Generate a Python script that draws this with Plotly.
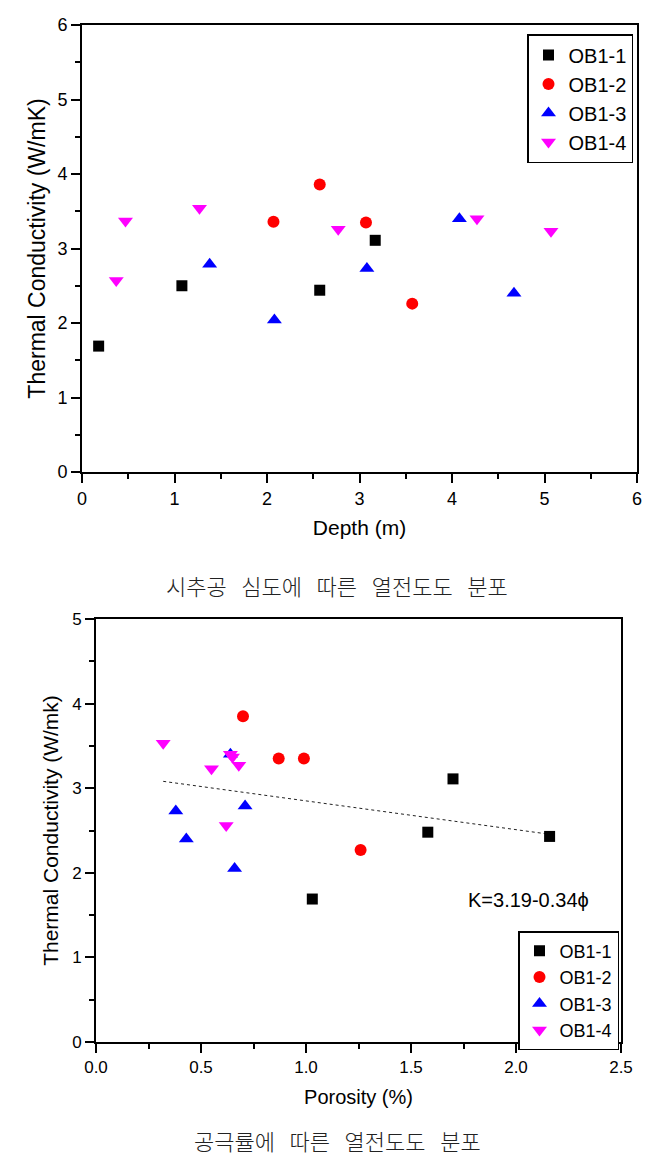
import plotly.graph_objects as go

W, H = 661, 1168
PAGE_OFFSET = 8  # default body margin of the page

# ---------------- data: depth chart ----------------
series_names = ["OB1-1", "OB1-2", "OB1-3", "OB1-4"]
series_colors = ["#000000", "#ff0000", "#0000ff", "#ff00ff"]
series_symbols = ["square", "circle", "triangle-up", "triangle-down"]
series_sizes = [11, 12, 13, 13]

depth_ob1_1 = [0.18, 1.08, 2.57, 3.17]
tc_depth_ob1_1 = [1.69, 2.50, 2.44, 3.11]
depth_ob1_2 = [2.07, 2.57, 3.07, 3.57]
tc_depth_ob1_2 = [3.36, 3.86, 3.35, 2.26]
depth_ob1_3 = [1.38, 2.08, 3.08, 4.08, 4.67]
tc_depth_ob1_3 = [2.79, 2.04, 2.73, 3.40, 2.40]
depth_ob1_4 = [0.37, 0.47, 1.27, 2.77, 4.27, 5.07]
tc_depth_ob1_4 = [2.57, 3.37, 3.54, 3.26, 3.40, 3.23]

# ---------------- data: porosity chart ----------------
por_ob1_1 = [1.03, 1.58, 2.16, 1.70]
tc_por_ob1_1 = [1.69, 2.48, 2.43, 3.11]
por_ob1_2 = [0.87, 0.70, 0.99, 1.26]
tc_por_ob1_2 = [3.35, 3.85, 3.35, 2.27]
por_ob1_3 = [0.71, 0.66, 0.38, 0.64, 0.43]
tc_por_ob1_3 = [2.79, 2.05, 2.73, 3.40, 2.40]
por_ob1_4 = [0.62, 0.65, 0.32, 0.68, 0.64, 0.55]
tc_por_ob1_4 = [2.56, 3.37, 3.53, 3.27, 3.40, 3.23]

# linear fit K = a - b*phi
fit_intercept = 3.19
fit_slope = -0.34
fit_label = "K=3.19-0.34\u03d5"

# captions
SP = "\u00a0\u00a0\u00a0"
caption_top = SP.join(["시추공", "심도에", "따른", "열전도도", "분포"])
caption_bottom = SP.join(["공극률에", "따른", "열전도도", "분포"])

depth_x = [depth_ob1_1, depth_ob1_2, depth_ob1_3, depth_ob1_4]
depth_y = [tc_depth_ob1_1, tc_depth_ob1_2, tc_depth_ob1_3, tc_depth_ob1_4]
por_x = [por_ob1_1, por_ob1_2, por_ob1_3, por_ob1_4]
por_y = [tc_por_ob1_1, tc_por_ob1_2, tc_por_ob1_3, tc_por_ob1_4]

FONT = "Liberation Sans, Arial, sans-serif"
CJK = "Noto Sans CJK KR"


def px_x(p):
    return (p - PAGE_OFFSET) / W


def px_y(p):
    return 1 - (p - PAGE_OFFSET) / H


fig = go.Figure()

# trend line (bottom chart)
all_por = [v for s in por_x for v in s]
fxs = [min(all_por), max(all_por)]
fys = [fit_intercept + fit_slope * v for v in fxs]
fig.add_trace(go.Scatter(x=fxs, y=fys, mode="lines", xaxis="x2", yaxis="y2",
                         line=dict(color="#222222", width=1, dash="dot"),
                         showlegend=False, hoverinfo="skip"))

for i, name in enumerate(series_names):
    fig.add_trace(go.Scatter(
        x=depth_x[i], y=depth_y[i], mode="markers", name=name,
        marker=dict(symbol=series_symbols[i], color=series_colors[i],
                    size=series_sizes[i], line=dict(width=0)),
        xaxis="x", yaxis="y", legend="legend"))
for i, name in enumerate(series_names):
    fig.add_trace(go.Scatter(
        x=por_x[i], y=por_y[i], mode="markers", name=name,
        marker=dict(symbol=series_symbols[i], color=series_colors[i],
                    size=series_sizes[i], line=dict(width=0)),
        xaxis="x2", yaxis="y2", legend="legend2"))


def axis(domain, rng, dtick, minor_dtick, title, title_size, standoff, anchor,
         tick_size=17, fmt=None):
    d = dict(
        domain=domain, range=rng, dtick=dtick, tick0=0, anchor=anchor,
        showline=True, linecolor="black", linewidth=2, mirror=True,
        ticks="outside", ticklen=9, tickwidth=2, tickcolor="black",
        minor=dict(ticks="outside", ticklen=5, tickwidth=2, tickcolor="black",
                   dtick=minor_dtick, tick0=0),
        showgrid=False, zeroline=False, automargin=False,
        tickfont=dict(family=FONT, size=tick_size, color="black"),
        title=dict(text=title, font=dict(family=FONT, size=title_size, color="black"),
                   standoff=standoff),
        fixedrange=True,
    )
    if fmt:
        d["tickformat"] = fmt
    return d


fig.update_layout(
    width=W, height=H,
    margin=dict(l=0, r=0, t=0, b=0),
    paper_bgcolor="white", plot_bgcolor="white",
    font=dict(family=FONT, color="black"),
    xaxis=axis([px_x(82), px_x(637)], [0, 6], 1, 0.5, "Depth (m)", 21, 13, "y", tick_size=18),
    yaxis=axis([px_y(472), px_y(25)], [0, 6], 1, 0.5, "Thermal Conductivity (W/mK)", 23, 5, "x", tick_size=18),
    xaxis2=axis([px_x(96), px_x(621)], [0, 2.5], 0.5, 0.25, "Porosity (%)", 20, 14, "y2", fmt=".1f"),
    yaxis2=axis([px_y(1042), px_y(619)], [0, 5], 1, 0.5, "Thermal Conductivity (W/mk)", 21, 8, "x2"),
    legend=dict(x=px_x(633), xanchor="right", y=px_y(34), yanchor="top",
                bordercolor="black", borderwidth=1.5, bgcolor="white",
                font=dict(family=FONT, size=20, color="black")),
    legend2=dict(x=px_x(619), xanchor="right", y=px_y(931), yanchor="top",
                 bordercolor="black", borderwidth=1.5, bgcolor="white",
                 font=dict(family=FONT, size=18, color="black")),
    annotations=[
        dict(text=fit_label, x=2.06, y=1.68, xref="x2", yref="y2", showarrow=False,
             xanchor="center", yanchor="middle",
             font=dict(family=FONT, size=20, color="black")),
        dict(text=caption_top, x=px_x(337), y=px_y(585), xref="paper", yref="paper",
             xanchor="center", yanchor="middle", showarrow=False,
             font=dict(family=CJK, size=22, color="#222222", weight=300)),
        dict(text=caption_bottom, x=px_x(337), y=px_y(1140), xref="paper", yref="paper",
             xanchor="center", yanchor="middle", showarrow=False,
             font=dict(family=CJK, size=22, color="#222222", weight=300)),
    ],
)

fig.write_html("out.html")
